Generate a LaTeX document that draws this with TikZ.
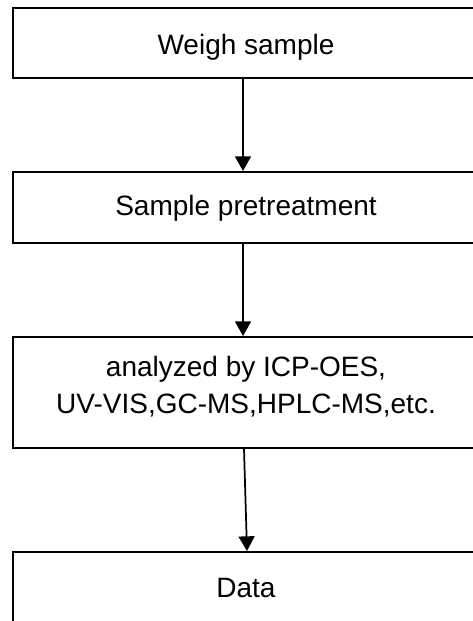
\documentclass[tikz,border=0pt]{standalone}
\usepackage{fontspec}
\setmainfont{Liberation Sans}
\usetikzlibrary{arrows.meta}

\tikzset{
    stagebox/.style={draw, line width=1.5pt, minimum width=349.5pt, inner sep=0pt,
        align=center, font=\fontsize{21pt}{27.75pt}\selectfont},
    flowarrow/.style={-{Triangle[width=12pt,length=11pt]}, line width=1.3pt}
}

\begin{document}
\begin{tikzpicture}[x=0.75pt, y=-0.75pt]
    \clip (0,0) rectangle (473,621);

    \node[stagebox, minimum height=52.5pt, text height=21pt, text depth=4.5pt] (weigh) at (246,43) {Weigh sample};
    \node[stagebox, minimum height=53.25pt, text height=17pt, text depth=4.5pt] (pretreat) at (246,207.5) {Sample pretreatment};
    \node[stagebox, minimum height=83.25pt, text depth=12pt] (analysis) at (246,392.5)
        {analyzed by ICP-OES,\\UV-VIS,GC-MS,HPLC-MS,etc.};
    \node[stagebox, minimum height=54pt] (data) at (246,588) {Data};

    % connectors between the stages
    \draw[flowarrow] ([xshift=-2.25pt]weigh.south) -- ([xshift=-2.25pt]pretreat.north);
    \draw[flowarrow] ([xshift=-2.25pt]pretreat.south) -- ([xshift=-2.25pt]analysis.north);
    \draw[flowarrow] ([xshift=-1.5pt]analysis.south) -- ([xshift=0.75pt]data.north);
\end{tikzpicture}
\end{document}
